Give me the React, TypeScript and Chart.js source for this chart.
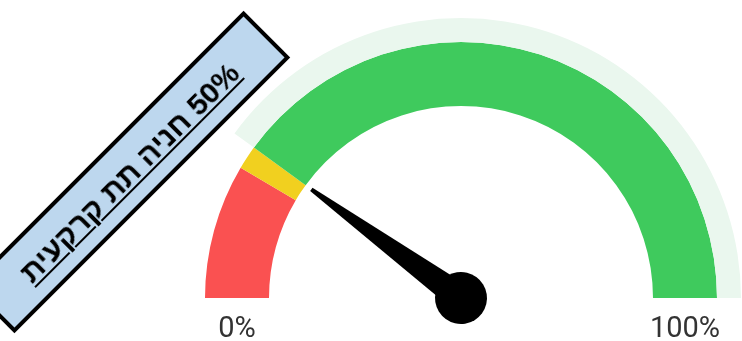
import React, { useEffect, useRef } from 'react';
import { Chart, registerables } from 'chart.js';

Chart.register(...registerables);

const segmentLabels = ['נמוך', 'בינוני', 'גבוה'];
const segmentValues = [17, 3, 80];
const segmentColors = ['#fa5151', '#f1d01f', '#3fca5d'];
const haloValues = [20, 80];
const haloColors = ['rgba(0,0,0,0)', '#eaf7ee'];
const needleValue = 20;
const gaugeMin = 0;
const gaugeMax = 100;
const tickLabels = ['0%', '100%'];
const titleText = '50% חניה תת קרקעית';

const gaugeOverlay = {
  id: 'gaugeOverlay',
  afterDatasetsDraw(chart: any) {
    const meta = chart.getDatasetMeta(1);
    const arc: any = meta.data[0];
    if (!arc) return;
    const cx = arc.x;
    const cy = arc.y;
    const inner = arc.innerRadius;
    const outer = arc.outerRadius;
    const ctx = chart.ctx;
    ctx.save();
    ctx.font = '29px Roboto';
    ctx.fillStyle = '#333333';
    ctx.textAlign = 'center';
    ctx.textBaseline = 'alphabetic';
    const mid = (inner + outer) / 2;
    ctx.fillText(tickLabels[0], cx - mid, cy + 39);
    ctx.fillText(tickLabels[1], cx + mid, cy + 39);

    const frac = (needleValue - gaugeMin) / (gaugeMax - gaugeMin);
    const ang = Math.PI + frac * Math.PI;
    const len = inner - 7;
    ctx.translate(cx, cy);
    ctx.rotate(ang);
    ctx.fillStyle = '#000000';
    ctx.beginPath();
    ctx.moveTo(0, -14);
    ctx.lineTo(len, -2);
    ctx.lineTo(len, 2);
    ctx.lineTo(0, 14);
    ctx.closePath();
    ctx.fill();
    ctx.beginPath();
    ctx.arc(0, 0, 26, 0, Math.PI * 2);
    ctx.fill();
    ctx.restore();
  },
};

export default function App() {
  const canvasRef = useRef<HTMLCanvasElement | null>(null);

  useEffect(() => {
    if (!canvasRef.current) return;
    const chart = new Chart(canvasRef.current, {
      type: 'doughnut',
      data: {
        labels: segmentLabels,
        datasets: [
          {
            data: haloValues,
            backgroundColor: haloColors,
            borderWidth: 0,
            weight: 3,
          },
          {
            data: segmentValues,
            backgroundColor: segmentColors,
            borderWidth: 0,
            weight: 8,
          },
        ],
      },
      options: {
        responsive: false,
        animation: false,
        rotation: -90,
        circumference: 180,
        cutout: '68.57%',
        radius: 280,
        layout: { padding: { left: 180, right: 0, top: 0, bottom: 25 } },
        plugins: {
          legend: { display: false },
          tooltip: { enabled: false },
        },
        events: [],
      },
      plugins: [gaugeOverlay],
    } as any);
    return () => chart.destroy();
  }, []);

  return (
    <div style={{ position: 'absolute', left: 0, top: 0, width: 742, height: 341, overflow: 'hidden', background: '#ffffff' }}>
      <canvas ref={canvasRef} width={742} height={341} style={{ display: 'block', width: 742, height: 341 }} />
      <div
        style={{
          position: 'absolute',
          left: -66,
          top: 138.5,
          width: 390,
          height: 66,
          boxSizing: 'border-box',
          border: '4px solid #000000',
          background: '#bdd7ee',
          transform: 'rotate(-45deg)',
          display: 'flex',
          alignItems: 'center',
          justifyContent: 'center',
          fontFamily: "'Liberation Sans', Arial, sans-serif",
          fontWeight: 'bold',
          fontSize: 30,
          textDecoration: 'underline',
          textDecorationThickness: 2,
          textUnderlineOffset: 3,
          direction: 'rtl',
          color: '#000000',
          whiteSpace: 'nowrap',
          paddingTop: 2,
        }}
      >
        {titleText}
      </div>
    </div>
  );
}
